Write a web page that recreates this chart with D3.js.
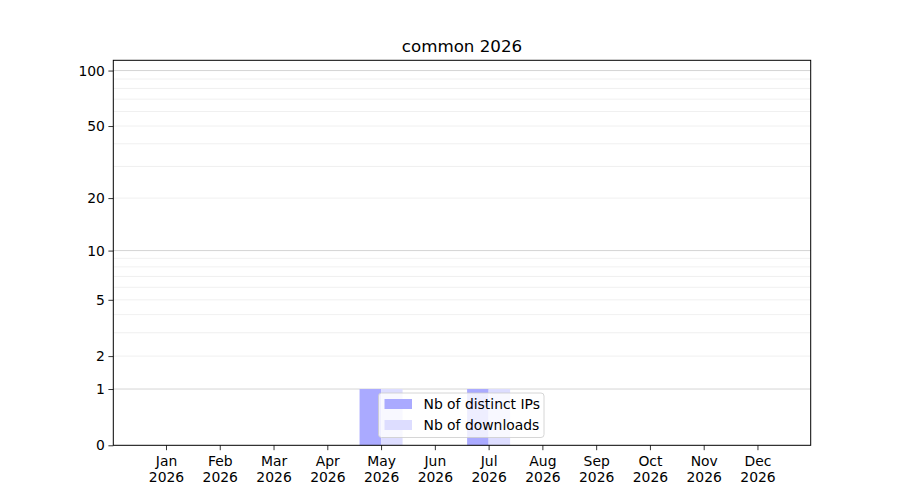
<!DOCTYPE html>
<html>
<head>
<meta charset="utf-8">
<script src="https://cdn.jsdelivr.net/npm/d3@7"></script>
<style>
  body { margin: 0; background: #fff; }
  svg { font-family: "DejaVu Sans", sans-serif; }
</style>
</head>
<body>
<div id="chart"></div>
<script>
const title = 'common 2026';
const months = ['Jan', 'Feb', 'Mar', 'Apr', 'May', 'Jun', 'Jul', 'Aug', 'Sep', 'Oct', 'Nov', 'Dec'];
const year = '2026';
const distinctIPs = [0, 0, 0, 0, 1, 0, 1, 0, 0, 0, 0, 0];
const downloads = [0, 0, 0, 0, 1, 0, 1, 0, 0, 0, 0, 0];
const yTicks = [0, 1, 2, 5, 10, 20, 50, 100];
const majorGrid = [1, 10, 100];
const minorGrid = [2, 3, 4, 5, 6, 7, 8, 9, 20, 30, 40, 50, 60, 70, 80, 90];
const seriesNames = ['Nb of distinct IPs', 'Nb of downloads'];

const width = 900, height = 500;
const margin = { top: 60.3, right: 89.3, bottom: 54.7, left: 113.3 };
const plotW = width - margin.left - margin.right;
const plotH = height - margin.top - margin.bottom;
const fontFamily = '"DejaVu Sans", sans-serif';

const svg = d3.select('#chart')
  .append('svg')
  .attr('width', width)
  .attr('height', height);

const x = d3.scaleLinear()
  .domain([-0.98, 11.99])
  .range([margin.left, margin.left + plotW]);

const y = d3.scaleSymlog()
  .constant(1)
  .domain([0, 113.6])
  .range([margin.top + plotH, margin.top]);

// grid
svg.append('g')
  .selectAll('line')
  .data(minorGrid)
  .enter()
  .append('line')
  .attr('x1', margin.left).attr('x2', margin.left + plotW)
  .attr('y1', d => y(d)).attr('y2', d => y(d))
  .attr('stroke', '#ececec')
  .attr('stroke-width', 0.8);

svg.append('g')
  .selectAll('line')
  .data(majorGrid)
  .enter()
  .append('line')
  .attr('x1', margin.left).attr('x2', margin.left + plotW)
  .attr('y1', d => y(d)).attr('y2', d => y(d))
  .attr('stroke', '#cfcfcf')
  .attr('stroke-width', 0.9);

// bars
const barW = 0.4;
svg.append('g')
  .selectAll('rect')
  .data(distinctIPs)
  .enter()
  .append('rect')
  .attr('x', (d, i) => x(i - barW))
  .attr('width', (d, i) => x(i) - x(i - barW))
  .attr('y', d => y(d))
  .attr('height', d => y(0) - y(d))
  .attr('fill', '#aaaaff');

svg.append('g')
  .selectAll('rect')
  .data(downloads)
  .enter()
  .append('rect')
  .attr('x', (d, i) => x(i))
  .attr('width', (d, i) => x(i + barW) - x(i))
  .attr('y', d => y(d))
  .attr('height', d => y(0) - y(d))
  .attr('fill', '#ddddff');

// axes
const xAxis = d3.axisBottom(x)
  .tickValues(d3.range(months.length))
  .tickSize(4.9)
  .tickPadding(3.5)
  .tickFormat('');

const xg = svg.append('g')
  .attr('transform', `translate(0, ${margin.top + plotH})`)
  .call(xAxis)
  .attr('font-family', fontFamily);
xg.select('.domain').remove();
xg.selectAll('.tick line').attr('stroke', '#000').attr('stroke-width', 0.8);
xg.selectAll('.tick')
  .append('text')
  .attr('fill', '#000')
  .attr('font-size', '13.9px')
  .attr('font-family', fontFamily)
  .attr('text-anchor', 'middle')
  .selectAll('tspan')
  .data((d, i) => [months[i], year])
  .enter()
  .append('tspan')
  .attr('x', 0)
  .attr('y', (d, i) => 21 + i * 16)
  .text(d => d);

const yAxis = d3.axisLeft(y)
  .tickValues(yTicks)
  .tickSize(4.9)
  .tickPadding(3.5)
  .tickFormat(d3.format('d'));

const yg = svg.append('g')
  .attr('transform', `translate(${margin.left}, 0)`)
  .call(yAxis)
  .attr('font-family', fontFamily);
yg.select('.domain').remove();
yg.selectAll('.tick line').attr('stroke', '#000').attr('stroke-width', 0.8);
yg.selectAll('.tick text')
  .attr('fill', '#000')
  .attr('font-size', '13.9px')
  .attr('font-family', fontFamily);

// frame
svg.append('rect')
  .attr('x', margin.left).attr('y', margin.top)
  .attr('width', plotW).attr('height', plotH)
  .attr('fill', 'none')
  .attr('stroke', '#000')
  .attr('stroke-width', 1);

// title
svg.append('text')
  .attr('x', margin.left + plotW / 2)
  .attr('y', margin.top - 8.5)
  .attr('text-anchor', 'middle')
  .attr('font-size', '16.7px')
  .attr('fill', '#000')
  .text(title);

// legend
const legend = svg.append('g').attr('transform', 'translate(378.5, 393)');
legend.append('rect')
  .attr('width', 165.5).attr('height', 44.5)
  .attr('rx', 3)
  .attr('fill', '#fff').attr('fill-opacity', 0.8)
  .attr('stroke', '#cccccc').attr('stroke-width', 0.8);

const legendColors = ['#aaaaff', '#ddddff'];
const items = legend.selectAll('g.item')
  .data(seriesNames)
  .enter()
  .append('g')
  .attr('class', 'item')
  .attr('transform', (d, i) => `translate(0, ${i * 21})`);
items.append('rect')
  .attr('x', 6).attr('y', 6)
  .attr('width', 27.5).attr('height', 10)
  .attr('fill', (d, i) => legendColors[i]);
items.append('text')
  .attr('x', 45).attr('y', 16)
  .attr('font-size', '13.9px')
  .attr('fill', '#000')
  .text(d => d);
</script>
</body>
</html>
